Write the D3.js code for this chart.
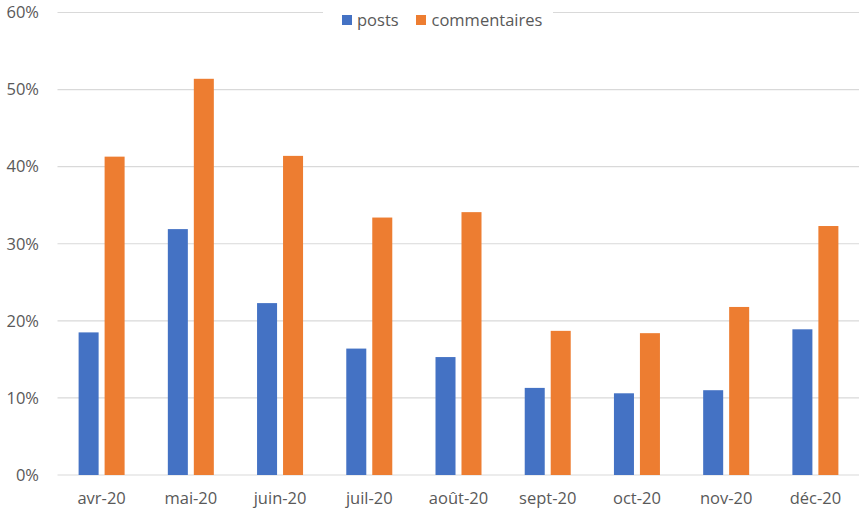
<!DOCTYPE html>
<html lang="fr">
<head>
  <meta charset="UTF-8">
  <title>posts / commentaires</title>
  <script src="https://d3js.org/d3.v7.min.js"></script>
  <style>
    body { margin: 0; background: #fff; }
    text { font-family: "Open Sans", sans-serif; fill: #595959; }
  </style>
</head>
<body>
  <svg id="chart" width="859" height="511"></svg>
  <script>
    const months = ['avr-20', 'mai-20', 'juin-20', 'juil-20', 'août-20', 'sept-20', 'oct-20', 'nov-20', 'déc-20'];
    const series = ['posts', 'commentaires'];
    const posts = [18.5, 31.9, 22.3, 16.4, 15.3, 11.3, 10.6, 11.0, 18.9];
    const commentaires = [41.3, 51.4, 41.4, 33.4, 34.1, 18.7, 18.4, 21.8, 32.3];
    const yTicks = [0, 10, 20, 30, 40, 50, 60];
    const colors = ['#4472C4', '#ED7D31'];

    const svg = d3.select('#chart');
    const values = { posts, commentaires };

    const x0 = d3.scaleBand().domain(months).range([57, 860]);
    const x1 = d3.scaleBand().domain(series).range([0, 46]).paddingInner(0.23);
    const y = d3.scaleLinear().domain([0, 60]).range([475, 12.5]);

    // grille
    svg.append('g')
      .selectAll('line')
      .data(yTicks)
      .join('line')
      .attr('x1', 57.5).attr('x2', 859)
      .attr('y1', d => y(d)).attr('y2', d => y(d))
      .attr('stroke', '#d9d9d9').attr('stroke-width', 1.2);

    // axe Y
    const axisY = d3.axisLeft(y).tickValues(yTicks).tickFormat(d => d + '%').tickSize(0).tickPadding(0);
    svg.append('g').attr('transform', 'translate(39,0)').call(axisY)
      .call(g => g.select('.domain').remove())
      .selectAll('text').attr('font-size', 16.5).attr('fill', '#595959');

    // barres
    series.forEach((s, si) => {
      svg.append('g')
        .selectAll('rect')
        .data(months)
        .join('rect')
        .attr('x', (m) => x0(m) + x0.bandwidth() / 2 - 23 + x1(s))
        .attr('width', x1.bandwidth())
        .attr('y', (m, i) => y(values[s][i]))
        .attr('height', (m, i) => y(0) - y(values[s][i]))
        .attr('fill', colors[si]);
    });

    // axe X
    const axisX = d3.axisBottom(x0).tickSize(0).tickPadding(0);
    svg.append('g').attr('transform', 'translate(0,492)').call(axisX)
      .call(g => g.select('.domain').remove())
      .selectAll('text').attr('font-size', 16.5).attr('fill', '#595959');

    // légende
    const legend = svg.append('g');
    legend.append('rect').attr('x', 323).attr('y', 5).attr('width', 230).attr('height', 28).attr('fill', '#fff');
    const items = [{ x: 342, tx: 357 }, { x: 416, tx: 431.5 }];
    series.forEach((s, i) => {
      legend.append('rect').attr('x', items[i].x).attr('y', 15).attr('width', 10).attr('height', 10).attr('fill', colors[i]);
      legend.append('text').attr('x', items[i].tx).attr('y', 25.5).attr('font-size', 16.5).text(s);
    });
  </script>
</body>
</html>
